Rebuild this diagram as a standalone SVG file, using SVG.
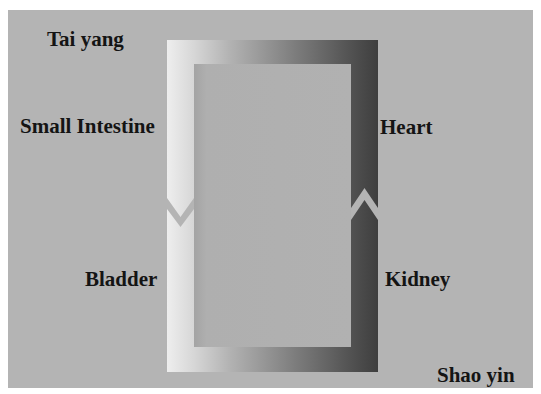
<svg xmlns="http://www.w3.org/2000/svg" width="541" height="394" viewBox="0 0 541 394">
  <style>
    .lbl { font-family: "Liberation Serif", "Times New Roman", serif; font-weight: bold; font-size: 21px; fill: #141414; }
    .bg { fill: #b4b4b4; }
  </style>
  <defs>
    <linearGradient id="loopGrad" gradientUnits="userSpaceOnUse" x1="167" y1="0" x2="378" y2="0">
      <stop offset="0" stop-color="#eeeeee"/>
      <stop offset="0.13" stop-color="#d6d6d6"/>
      <stop offset="0.3" stop-color="#b2b2b2"/>
      <stop offset="0.6" stop-color="#7e7e7e"/>
      <stop offset="0.87" stop-color="#525252"/>
      <stop offset="1" stop-color="#3e3e3e"/>
    </linearGradient>
    <linearGradient id="innerShade" x1="0" y1="0" x2="1" y2="0">
      <stop offset="0" stop-color="#a4a4a4"/>
      <stop offset="0.08" stop-color="#afafaf"/>
      <stop offset="1" stop-color="#b1b1b1"/>
    </linearGradient>
  </defs>

  <rect x="0" y="0" width="541" height="394" fill="#ffffff"/>
  <rect class="bg" x="8" y="10" width="525" height="378"/>

  <g id="connectors">
    <g id="loop">
      <path d="M167,40 H378 V372 H167 Z M194,64 V347 H351 V64 Z" fill="url(#loopGrad)" fill-rule="evenodd"/>
      <rect x="194" y="64" width="157" height="283" fill="url(#innerShade)"/>
      <!-- downward chevron on left bar -->
      <polygon class="bg" points="167,198 180.5,217 194,198 194,209 180.5,227 167,209"/>
      <!-- upward chevron on right bar -->
      <polygon class="bg" points="351,208 364.5,188 378,208 378,220 364.5,200 351,220"/>
    </g>
  </g>

  <g id="tai-yang"><text class="lbl" x="47" y="46">Tai yang</text></g>
  <g id="small-intestine"><text class="lbl" x="20" y="133">Small Intestine</text></g>
  <g id="heart"><text class="lbl" x="380" y="134">Heart</text></g>
  <g id="bladder"><text class="lbl" x="85" y="286">Bladder</text></g>
  <g id="kidney"><text class="lbl" x="385" y="286">Kidney</text></g>
  <g id="shao-yin"><text class="lbl" x="437" y="382">Shao yin</text></g>
</svg>
